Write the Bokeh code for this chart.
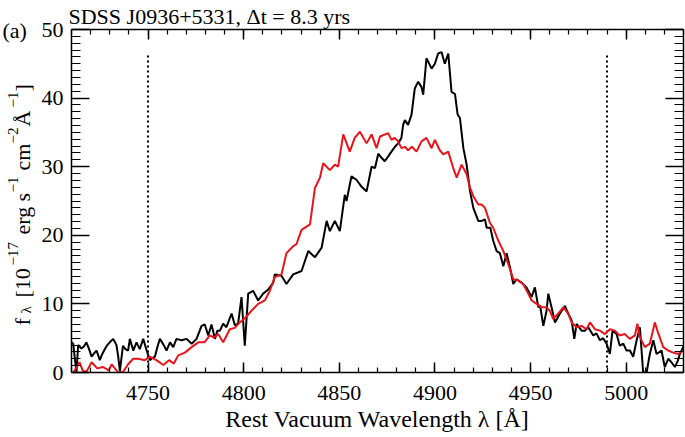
import math
from bokeh.plotting import figure
from bokeh.models import SingleIntervalTicker, LinearAxis, Range1d, CustomJSTickFormatter, Title
from bokeh.layouts import row
from bokeh.embed import file_html
from bokeh.resources import INLINE
from bokeh.core.properties import value

# ---- data ----
black_wave = [4710.0, 4710.9, 4711.8, 4712.6, 4713.5, 4715.2, 4716.5, 4717.8, 4719.2, 4720.5,
              4721.8, 4723.1, 4724.8, 4726.1, 4727.4, 4728.7, 4730.0, 4731.8, 4733.5, 4734.4,
              4735.3, 4736.9, 4738.2, 4739.6, 4740.5, 4742.3, 4744.0, 4745.7, 4747.5, 4749.3,
              4751.0, 4752.3, 4753.6, 4755.0, 4756.2, 4758.0, 4759.7, 4761.5, 4763.2, 4764.9,
              4767.5, 4770.2, 4772.8, 4775.4, 4778.0, 4779.7, 4781.5, 4783.2, 4785.0, 4786.3,
              4787.6, 4789.3, 4791.0, 4793.7, 4795.4, 4797.1, 4798.9, 4800.6, 4802.4, 4805.0,
              4807.6, 4810.2, 4812.9, 4815.5, 4816.3, 4819.8, 4822.4, 4825.9, 4830.3, 4833.8,
              4837.3, 4840.8, 4843.4, 4845.1, 4847.7, 4850.3, 4852.9, 4853.8, 4856.4, 4859.0,
              4861.6, 4864.3, 4866.9, 4868.7, 4870.4, 4872.1, 4873.8, 4875.6, 4877.3, 4879.1,
              4880.8, 4882.5, 4883.4, 4884.3, 4886.0, 4887.8, 4889.5, 4891.3, 4893.0, 4893.9,
              4895.6, 4897.4, 4898.3, 4900.0, 4901.7, 4903.5, 4905.2, 4907.0, 4908.7, 4910.5,
              4911.9, 4913.1, 4914.9, 4916.6, 4918.4, 4920.1, 4922.7, 4924.4, 4926.2, 4927.1,
              4929.0, 4930.5, 4932.3, 4934.0, 4935.8, 4937.5, 4939.3, 4941.0, 4942.7, 4945.3,
              4947.9, 4950.6, 4952.3, 4954.1, 4955.0, 4956.7, 4958.4, 4959.3, 4961.0, 4962.8,
              4965.4, 4968.0, 4969.7, 4971.5, 4972.9, 4974.1, 4976.7, 4978.5, 4980.2, 4982.8,
              4984.5, 4986.3, 4988.0, 4989.8, 4991.5, 4992.9, 4995.0, 4996.7, 4998.5, 5000.2,
              5002.0, 5003.7, 5005.5, 5007.2, 5008.9, 5010.7, 5012.4, 5014.2, 5015.9, 5018.5,
              5020.2, 5022.0, 5023.7, 5025.5, 5027.0, 5028.1, 5030.0]
black_flux = [4.4, 4.2, 1.9, 0.0, 4.0, 3.5, 3.8, 4.4, 3.4, 2.3,
              2.8, 3.2, 1.8, 2.7, 3.4, 4.0, 4.4, 4.9, 4.0, 2.4,
              0.2, 3.9, 3.4, 3.2, 4.9, 3.2, 4.4, 3.4, 4.9, 3.2,
              1.8, 2.1, 2.3, 3.8, 4.9, 4.1, 3.2, 4.4, 3.7, 4.9,
              4.7, 4.9, 4.2, 4.9, 6.8, 7.0, 5.4, 7.0, 4.9, 6.1,
              6.1, 7.1, 6.6, 8.6, 6.9, 7.1, 11.0, 3.9, 11.5, 11.9,
              10.5, 11.5, 12.1, 13.1, 14.3, 14.1, 12.9, 14.3, 14.8, 17.7,
              16.8, 18.2, 22.1, 20.6, 22.1, 20.6, 25.9, 25.0, 28.6, 28.1,
              27.1, 26.4, 30.0, 29.8, 31.9, 31.3, 30.8, 31.5, 32.2, 32.9,
              33.4, 34.2, 36.1, 36.8, 36.1, 37.6, 41.4, 42.4, 41.6, 40.5,
              45.8, 44.8, 44.3, 45.0, 46.5, 46.7, 45.0, 46.5, 40.9, 40.6,
              37.6, 37.1, 32.7, 30.3, 26.4, 24.0, 22.1, 22.1, 22.3, 21.1,
              21.1, 19.2, 17.7, 17.4, 15.5, 17.4, 15.3, 12.9, 13.6, 13.1,
              12.4, 11.0, 12.4, 9.5, 9.8, 6.8, 9.0, 11.5, 9.5, 7.3,
              8.6, 9.7, 8.6, 7.6, 4.9, 7.1, 6.1, 6.1, 6.6, 5.4,
              5.7, 4.7, 5.0, 4.2, 2.7, 6.1, 5.6, 3.9, 4.2, 3.2,
              3.2, 2.3, 4.7, 6.6, 0.0, 0.0, 2.7, 4.7, 2.7, 3.2,
              0.8, 2.0, 1.5, 0.8, 1.7, 2.7, 3.8]

red_wave = [4711.0, 4714.2, 4716.0, 4718.0, 4720.5, 4723.5, 4726.5, 4729.5, 4731.0, 4734.4,
            4737.0, 4739.6, 4742.3, 4744.9, 4748.3, 4750.9, 4754.4, 4758.0, 4761.0, 4763.5,
            4765.8, 4769.3, 4772.8, 4776.3, 4779.5, 4782.3, 4784.5, 4786.7, 4789.3, 4792.8,
            4795.4, 4798.0, 4800.6, 4804.1, 4807.6, 4811.1, 4813.7, 4816.3, 4819.8, 4822.4,
            4825.9, 4827.6, 4830.3, 4834.7, 4837.3, 4839.9, 4841.6, 4845.1, 4847.7, 4849.4,
            4852.1, 4855.5, 4858.1, 4860.8, 4864.3, 4866.9, 4869.5, 4871.3, 4875.6, 4877.3,
            4879.0, 4880.8, 4882.5, 4884.3, 4886.0, 4888.0, 4890.4, 4893.0, 4895.6, 4898.3,
            4900.0, 4902.6, 4904.4, 4907.0, 4909.6, 4911.4, 4914.0, 4916.6, 4918.4, 4920.1,
            4922.7, 4924.4, 4926.2, 4928.8, 4930.5, 4933.2, 4935.8, 4938.4, 4941.0, 4943.6,
            4946.2, 4948.8, 4950.6, 4953.2, 4955.8, 4958.4, 4960.1, 4961.9, 4964.5, 4967.1,
            4969.7, 4971.5, 4974.1, 4976.7, 4979.3, 4981.1, 4983.7, 4986.3, 4988.9, 4991.5,
            4994.1, 4996.7, 4999.3, 5001.9, 5004.6, 5005.9, 5007.2, 5009.8, 5012.4, 5015.0,
            5016.7, 5019.4, 5022.0, 5024.6, 5027.2, 5029.8]
red_flux = [0.0, 1.5, 0.2, 0.2, 1.5, 0.6, 0.8, 0.3, 1.2, 0.0,
            0.1, 1.2, 2.0, 2.0, 1.8, 2.3, 1.8, 1.1, 1.8, 1.3,
            2.5, 2.9, 3.7, 4.4, 4.4, 5.4, 5.1, 5.6, 4.4, 6.3,
            6.5, 7.3, 7.9, 9.0, 10.0, 10.5, 11.9, 13.9, 14.3, 17.4,
            18.4, 18.7, 20.8, 21.6, 26.9, 28.4, 30.5, 29.5, 30.3, 30.0,
            34.7, 32.2, 34.2, 35.1, 33.4, 34.7, 32.7, 34.4, 34.9, 33.9,
            34.2, 33.7, 32.7, 32.9, 32.4, 32.9, 32.2, 33.7, 34.2, 32.7,
            33.9, 32.4, 31.8, 32.2, 29.8, 28.4, 30.3, 28.9, 26.9, 25.7,
            24.5, 24.5, 24.0, 21.8, 21.1, 19.2, 17.7, 15.8, 13.6, 13.4,
            12.9, 11.5, 10.5, 10.0, 9.5, 9.5, 9.0, 7.8, 8.6, 9.5,
            8.6, 7.3, 6.6, 6.8, 6.3, 7.3, 6.3, 6.1, 5.6, 6.3,
            6.1, 5.4, 5.6, 4.9, 5.4, 7.1, 5.2, 3.7, 4.2, 7.3,
            5.8, 3.7, 3.2, 2.9, 2.7, 3.2]

guide_waves = [4750, 4990]
guide_top = 46.5

x_limits = (4710, 5030)
y_limits = (0, 50)

title_text = "SDSS J0936+5331, \u0394t = 8.3 yrs"
panel_text = "(a)"
x_label = "Rest Vacuum Wavelength \u03bb [\u00c5]"
# y-axis label pieces, read bottom-to-top; kind: main / sub / sup
ylabel_text = ["f", "\u03bb", "[10", "\u221217", "erg", "s", "\u22121",
               "cm", "\u22122", "\u00c5", "\u22121", "]"]
ylabel_kind = ["main", "sub", "main", "sup", "main", "main", "sup",
               "main", "sup", "main", "sup", "main"]

FONT = "Liberation Serif"
FS = "22px"
SMALL = "15px"

W, H = 685, 437
STRIP_W = 36
FRAME_TOP, FRAME_BOTTOM = 29, 372   # page pixels

# ---------------- main plot ----------------
p = figure(width=W - STRIP_W, height=H,
           x_range=Range1d(*x_limits), y_range=Range1d(*y_limits),
           x_axis_type=None, y_axis_type=None,
           output_backend="svg", toolbar_location=None,
           min_border_left=71 - STRIP_W, min_border_right=2,
           min_border_top=FRAME_TOP, min_border_bottom=H - FRAME_BOTTOM)
p.outline_line_color = None
p.background_fill_color = "white"
p.border_fill_color = "white"

p.title.text = title_text
p.title.text_font = FONT
p.title.text_font_size = FS
p.title.text_font_style = "normal"
p.title.text_color = "black"
p.title.align = "left"
p.title.offset = -3
p.title.standoff = 2

xt = SingleIntervalTicker(interval=50, num_minor_ticks=5)
yt = SingleIntervalTicker(interval=10, num_minor_ticks=10)
blank = CustomJSTickFormatter(code="return ''")


def style_axis(ax, labels, major_len, minor_len):
    ax.major_tick_in = major_len
    ax.major_tick_out = 0
    ax.minor_tick_in = minor_len
    ax.minor_tick_out = 0
    ax.axis_line_width = 1.5
    ax.axis_line_color = "black"
    ax.major_tick_line_width = 1.5
    ax.minor_tick_line_width = 1.2
    ax.major_tick_line_color = "black"
    ax.minor_tick_line_color = "black"
    ax.major_label_text_font = FONT
    ax.major_label_text_color = "black"
    if labels:
        ax.major_label_text_font_size = FS
    else:
        ax.formatter = blank
        ax.major_label_text_font_size = "1px"
        ax.major_label_standoff = 0
    return ax


bottom = style_axis(LinearAxis(ticker=xt), True, 10, 5)
bottom.major_label_standoff = 13
bottom.axis_label = x_label
bottom.axis_label_text_font = FONT
bottom.axis_label_text_font_size = "24px"
bottom.axis_label_text_font_style = "normal"
bottom.axis_label_text_color = "black"
bottom.axis_label_standoff = 3
top = style_axis(LinearAxis(ticker=xt), False, 10, 5)
left = style_axis(LinearAxis(ticker=yt), True, 18, 9)
left.major_label_standoff = 8
right = style_axis(LinearAxis(ticker=yt), False, 18, 9)

p.add_layout(bottom, "below")
p.add_layout(top, "above")
p.add_layout(left, "left")
p.add_layout(right, "right")

p.segment(x0=guide_waves, y0=[y_limits[0]] * len(guide_waves),
          x1=guide_waves, y1=[guide_top] * len(guide_waves),
          line_color="black", line_width=2, line_dash="2 3")
p.line(black_wave, black_flux, line_color="black", line_width=2)
p.line(red_wave, red_flux, line_color="#e8141c", line_width=2)

# ---------------- left text strip ----------------
# Try to opt the strip out of frame alignment so its frame spans the whole height.
unaligned = False
try:
    ls_probe = figure(width=10, height=10)
    ls_probe.frame_align = False
    unaligned = True
except Exception:
    unaligned = False

if unaligned:
    ls = figure(width=STRIP_W, height=H, x_range=Range1d(0, STRIP_W),
                y_range=Range1d(0, H),
                x_axis_type=None, y_axis_type=None, output_backend="svg",
                toolbar_location=None, min_border=0, title=None)
    ls.frame_align = False
    p.frame_align = False
else:
    # frame aligned with the main frame (page y 29..372); data y = H - page_y
    ls = figure(width=STRIP_W, height=H, x_range=Range1d(0, STRIP_W),
                y_range=Range1d(H - FRAME_BOTTOM, H - FRAME_TOP),
                x_axis_type=None, y_axis_type=None, output_backend="svg",
                toolbar_location=None, min_border=0,
                title=Title(text=panel_text, text_font=FONT, text_font_size=FS,
                            text_font_style="normal", text_color="black",
                            align="left", offset=2, standoff=0))
ls.outline_line_color = None
ls.background_fill_color = "white"
ls.border_fill_color = "white"

base_x = {"main": 22.0, "sub": 25.5, "sup": 12.5}
start_page_y = [325, 313, 297, 265, 234, 201, 192, 170, 143, 126, 107, 91]
for kind, size in (("main", FS), ("sub", SMALL), ("sup", SMALL)):
    idx = [i for i, k in enumerate(ylabel_kind) if k == kind]
    ls.text(x=[base_x[kind]] * len(idx), y=[H - start_page_y[i] for i in idx],
            text=[ylabel_text[i] for i in idx], angle=math.pi / 2,
            text_font=value(FONT), text_font_size=value(size), text_color="black",
            text_align="left", text_baseline="alphabetic")
if unaligned:
    ls.text(x=[2], y=[H - 30], text=[panel_text], text_font=value(FONT),
            text_font_size=value(FS), text_color="black",
            text_align="left", text_baseline="alphabetic")

layout = row(ls, p, spacing=0)

open("out.html", "w").write(file_html(layout, INLINE))
